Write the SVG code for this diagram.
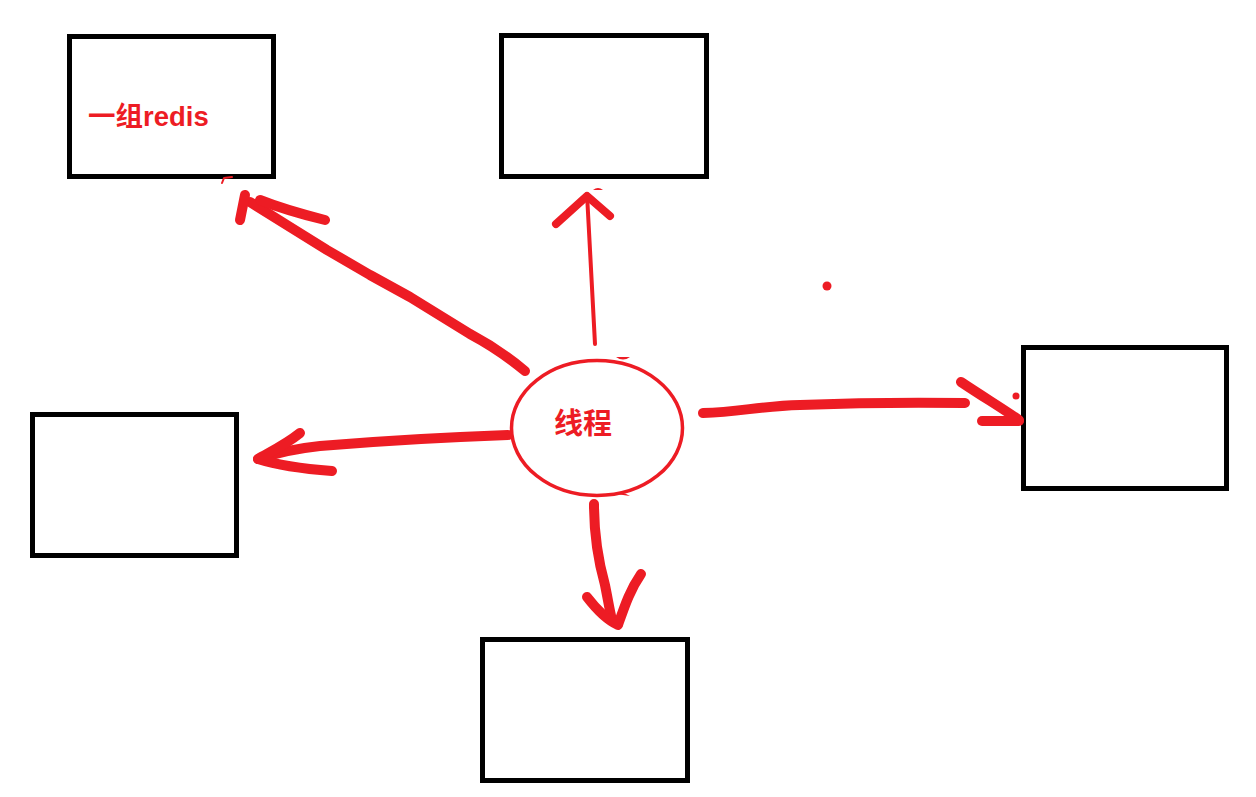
<svg xmlns="http://www.w3.org/2000/svg" width="1256" height="797" viewBox="0 0 1256 797">
  <style>
    .box { fill: #ffffff; stroke: #000000; stroke-width: 5; }
    .pen { fill: none; stroke: #ED1C24; stroke-linecap: round; stroke-linejoin: round; }
    .thick { stroke-width: 10; }
    .thin { stroke-width: 4; }
    .dot { fill: #ED1C24; }
    .lbl { fill: #ED1C24; font-family: "Liberation Sans", "Noto Sans CJK SC", sans-serif; font-weight: bold; }
  </style>
  <rect width="1256" height="797" fill="#ffffff"/>

  <g id="node-redis-group">
    <rect class="box" x="69.5" y="36.5" width="204" height="140"/>
    <text class="lbl" x="88" y="126" font-size="27.5">一组redis</text>
  </g>
  <g id="node-top">
    <rect class="box" x="501.5" y="35.5" width="205" height="141"/>
  </g>
  <g id="node-right">
    <rect class="box" x="1023.5" y="347.5" width="203" height="141"/>
  </g>
  <g id="node-left">
    <rect class="box" x="32.5" y="414.5" width="204" height="141"/>
  </g>
  <g id="node-bottom">
    <rect class="box" x="482.5" y="639.5" width="205" height="141"/>
  </g>
  <g id="node-thread">
    <ellipse cx="597" cy="428" rx="85.5" ry="67.5" fill="#ffffff" stroke="#ED1C24" stroke-width="3.5"/>
    <text class="lbl" x="583" y="434" font-size="29" text-anchor="middle">线程</text>
  </g>

  <g id="connectors">
    <!-- to top-left box -->
    <path class="pen thick" d="M525,371 Q500,350 470,334 L410,297 L370,275 L327,250 L290,227 L250,202"/>
    <path class="pen thick" d="M240,220 L245,195"/>
    <path class="pen thick" d="M260,200 C285,210 305,215 325,220"/>
    <!-- to top box -->
    <path class="pen thin" d="M595,344 L590,250 L587,194"/>
    <path class="pen" stroke-width="8" d="M556,224 L587,196 L610,216"/>
    <!-- to right box -->
    <path class="pen thick" d="M703,413 C740,412 760,406 800,405 C850,403 900,402 965,403"/>
    <path class="pen thick" d="M961,382 C985,398 1005,410 1019,420"/>
    <path class="pen thick" d="M982,421 L1019,421"/>
    <!-- to left box -->
    <path class="pen thick" d="M508,435 C450,437 380,441 320,446 C300,448 280,452 258,459"/>
    <path class="pen thick" d="M300,433 C285,445 270,452 258,459 C280,466 305,469 332,471"/>
    <!-- to bottom box -->
    <path class="pen thick" d="M594,504 C594,530 598,560 605,585 C608,600 610,612 612,620"/>
    <path class="pen thick" d="M587,597 C597,610 607,620 618,625 C625,605 630,590 641,574"/>
  </g>

  <g id="stray-marks">
    <circle class="dot" cx="827" cy="286" r="4.5"/>
    <circle class="dot" cx="1016" cy="396" r="3.5"/>
    <path class="dot" d="M593,190 Q598,186 603,190 Z"/>
    <path class="dot" d="M616,357 L630,357 Q623,362 616,357 Z"/>
    <path class="dot" d="M616,494 L630,496 Q623,491 616,494 Z"/>
    <path class="pen" stroke-width="2" d="M222,183 L224,178 L232,177"/>
  </g>
</svg>
